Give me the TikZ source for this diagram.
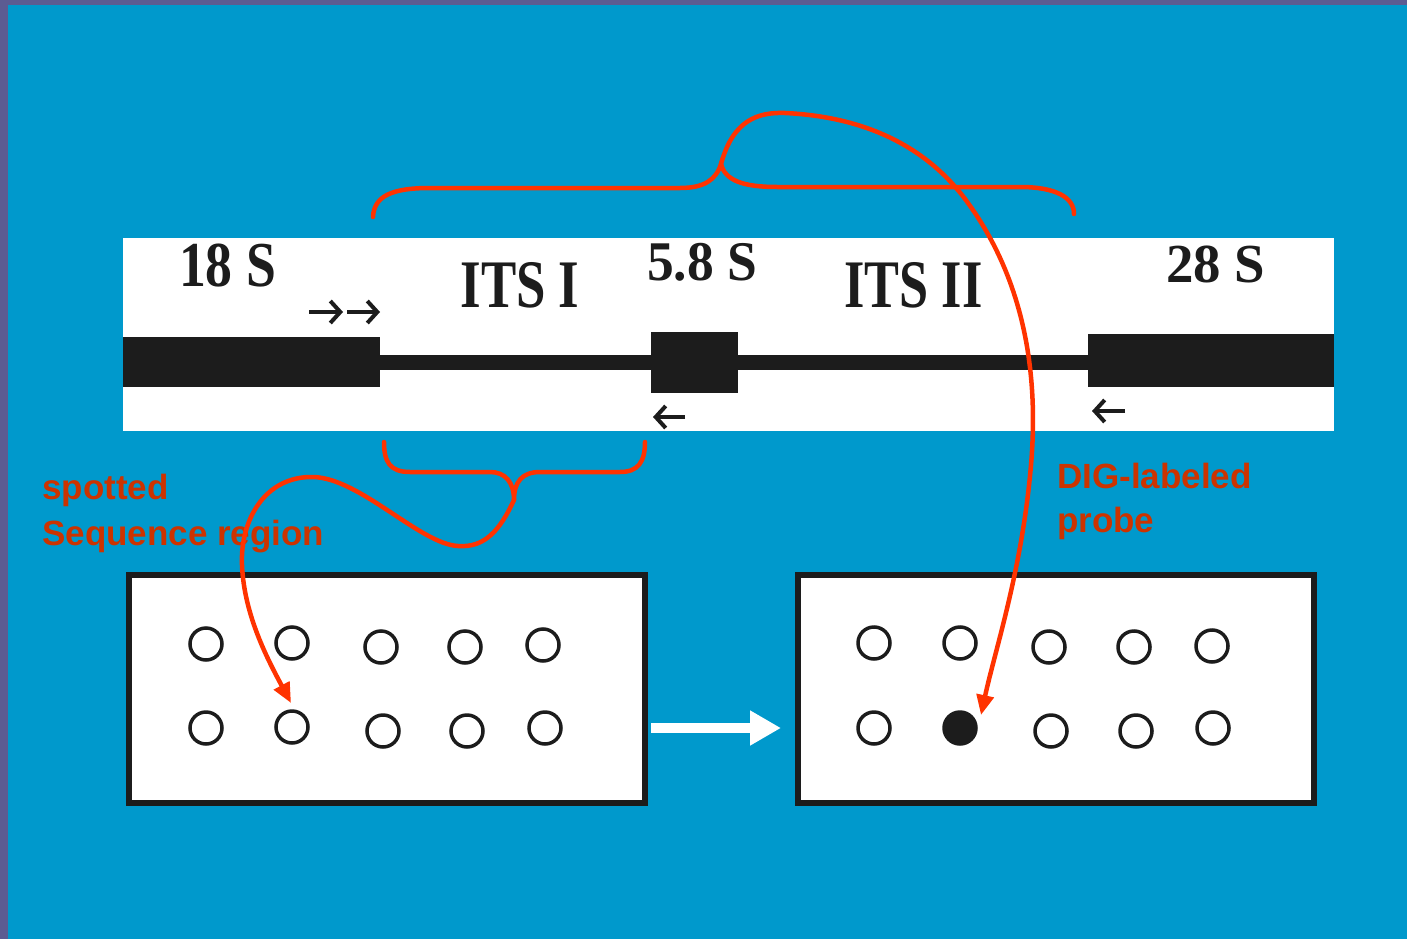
\documentclass[tikz,border=0pt]{standalone}
\usepackage{fontspec}
\setmainfont{Liberation Serif}
\newfontfamily\notesans{Liberation Sans}
\usetikzlibrary{arrows.meta}

\definecolor{slideblue}{HTML}{0099CC}
\definecolor{slideedge}{HTML}{5C5C92}
\definecolor{bracered}{HTML}{FF3300}
\definecolor{notered}{HTML}{CC3300}
\definecolor{ink}{HTML}{1C1C1C}

% fixed-width bold serif label, height kept
\newcommand\genetext[3]{\fontsize{#1}{#1}\selectfont\bfseries\resizebox{#2}{\height}{#3}}

\tikzset{
  exon/.style={fill=ink, inner sep=0pt, anchor=north west},
  spacer/.style={draw=ink, line width=15pt},
  genelabel/.style={text=ink, inner sep=0pt, anchor=base},
  primer/.style={draw=ink, line width=4pt, -{Straight Barb[length=10pt,width=22pt]}},
  note/.style={text=notered, inner sep=0pt, anchor=base west, font=\notesans\bfseries\fontsize{35}{35}\selectfont},
  panel/.style={draw=ink, fill=white, line width=6pt, inner sep=0pt, anchor=north west},
  spot/.style={circle, draw=ink, fill=white, line width=3.5pt, minimum size=32pt, inner sep=0pt},
  hit/.style={spot, fill=ink},
  brace/.style={draw=bracered, line width=4.5pt, line cap=round},
  pointer/.style={brace, -{Triangle[length=20pt,width=17pt]}},
  transfer/.style={draw=white, line width=10pt, -{Triangle[length=31pt,width=33pt]}}
}

\begin{document}
\begin{tikzpicture}[x=1pt, y=-1pt]
\useasboundingbox (0,0) rectangle (1407,939);
\fill[slideedge] (0,0) rectangle (1407,939);
\fill[slideblue] (8,5) rectangle (1407,939);

% rDNA map
\node[fill=white, inner sep=0pt, minimum width=1211pt, minimum height=193pt, anchor=north west] (strip) at (123,238) {};
\node[exon, minimum width=257pt, minimum height=50pt] (e18) at (123,337) {};
\node[exon, minimum width=87pt, minimum height=61pt] (e58) at (651,332) {};
\node[exon, minimum width=246pt, minimum height=53pt] (e28) at (1088,334) {};
\draw[spacer] (e18.east) -- (e18.east -| e58.west);
\draw[spacer] (e58.east |- e18.east) -- (e18.east -| e28.west);

\node[genelabel] (l18) at (227.5,286) {\genetext{64}{97pt}{18 S}};
\node[genelabel] (lits1) at (520,307) {\genetext{68}{119pt}{ITS I}};
\node[genelabel] (l58) at (702,280) {\genetext{56}{110pt}{5.8 S}};
\node[genelabel] (lits2) at (913.5,307) {\genetext{68}{138pt}{ITS II}};
\node[genelabel] (l28) at (1215.5,282) {\genetext{55}{99pt}{28 S}};

% primer arrows
\coordinate (pf1a) at (309,312); \coordinate (pf1b) at (343,312);
\coordinate (pf2a) at (347,312); \coordinate (pf2b) at (380,312);
\coordinate (pr1a) at (685,417); \coordinate (pr1b) at (653,417);
\coordinate (pr2a) at (1125,411); \coordinate (pr2b) at (1092,411);
\draw[primer] (pf1a) -- (pf1b);
\draw[primer] (pf2a) -- (pf2b);
\draw[primer] (pr1a) -- (pr1b);
\draw[primer] (pr2a) -- (pr2b);

% notes
\node[note] (n1) at (42,499) {spotted};
\node[note] (n2) at (42,545) {Sequence region};
\node[note] (n3) at (1057,488) {DIG-labeled};
\node[note] (n4) at (1057,532) {probe};

% membranes
\node[panel, minimum width=516pt, minimum height=228pt] (m1) at (126,572) {};
\node[panel, minimum width=516pt, minimum height=228pt] (m2) at (795,572) {};

\node[spot] (a1) at (206,644) {};
\node[spot] (a2) at (292,643) {};
\node[spot] (a3) at (381,647) {};
\node[spot] (a4) at (465,647) {};
\node[spot] (a5) at (543,645) {};
\node[spot] (a6) at (206,728) {};
\node[spot] (a7) at (292,727) {};
\node[spot] (a8) at (383,731) {};
\node[spot] (a9) at (467,731) {};
\node[spot] (a10) at (545,728) {};

\node[spot] (b1) at (874,643) {};
\node[spot] (b2) at (960,643) {};
\node[spot] (b3) at (1049,647) {};
\node[spot] (b4) at (1134,647) {};
\node[spot] (b5) at (1212,646) {};
\node[spot] (b6) at (874,728) {};
\node[hit]  (b7) at (960,728) {};
\node[spot] (b8) at (1051,731) {};
\node[spot] (b9) at (1136,731) {};
\node[spot] (b10) at (1213,728) {};

% hybridisation transfer arrow
\coordinate (x1) at (651,728);
\coordinate (x2) at (781,728);
\draw[transfer] (x1) -- (x2);

% brace over the ITS region
\coordinate (ttip) at (721,164);
\draw[brace] (373,217) .. controls (374,196) and (392,188) .. (430,188)
  -- (680,188) .. controls (704,188) and (716,180) .. (ttip)
  .. controls (725,180) and (742,187) .. (777,187)
  -- (1020,187) .. controls (1055,187) and (1074,197) .. (1074,214);

% brace under ITS I
\coordinate (btip) at (514,500);
\draw[brace] (384,442) .. controls (384,462) and (390,472) .. (410,472)
  -- (490,472) .. controls (505,472) and (514,482) .. (btip)
  .. controls (514,482) and (522,472) .. (540,472)
  -- (620,472) .. controls (638,472) and (645,462) .. (645,442);

% pointers
\coordinate (seqend) at (291,703);
\coordinate (probeend) at (981,715);
\draw[pointer] (btip) .. controls (500,530) and (485,548) .. (458,546)
  .. controls (420,544) and (360,478) .. (313,477)
  .. controls (265,476) and (240,520) .. (242,565)
  .. controls (244,615) and (268,660) .. (seqend);
\draw[pointer] (ttip) .. controls (733,120) and (758,112) .. (785,113)
  .. controls (870,117) and (930,150) .. (968,203)
  .. controls (1018,272) and (1040,360) .. (1031,465)
  .. controls (1022,570) and (995,650) .. (probeend);
\end{tikzpicture}
\end{document}
